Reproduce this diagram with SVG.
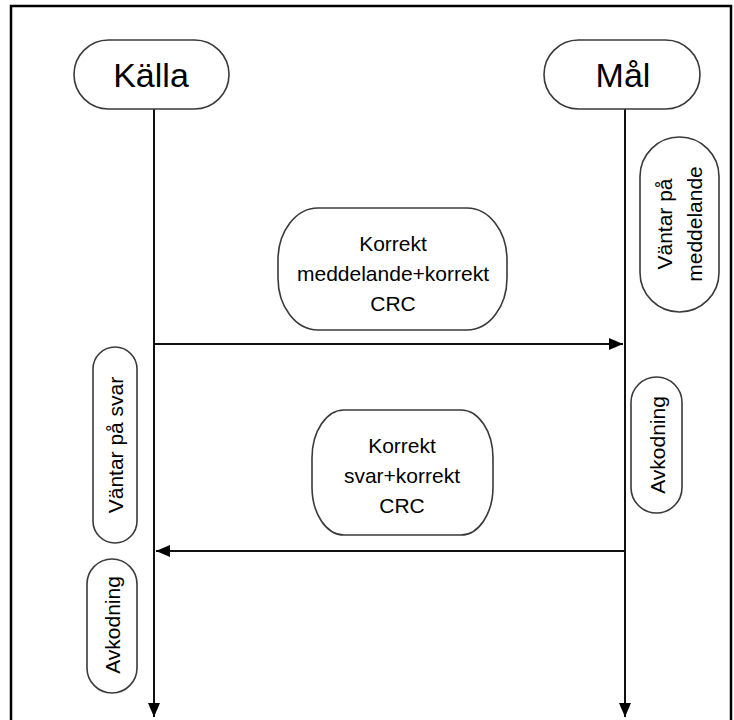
<svg xmlns="http://www.w3.org/2000/svg" width="734" height="720" viewBox="0 0 734 720">
<defs>
<marker id="ah" markerUnits="userSpaceOnUse" markerWidth="14" markerHeight="12" refX="14" refY="6" orient="auto">
<path d="M0,0 L14,6 L0,12 Z" fill="#000"/>
</marker>
</defs>
<style>
.box{fill:#fff;stroke:#3a3a3a;stroke-width:1.6}
.t{font-family:"Liberation Sans",Arial,sans-serif;fill:#000;text-anchor:middle}
.big{font-size:34px}
.sm{font-size:21px}
.ln{stroke:#111;stroke-width:2;fill:none}
</style>
<rect x="0" y="0" width="734" height="720" fill="#fff"/>
<rect x="11" y="6" width="720" height="730" fill="none" stroke="#000" stroke-width="2.5"/>
<g id="connectors">
<line class="ln" x1="154" y1="109" x2="154" y2="717" marker-end="url(#ah)"/>
<line class="ln" x1="625" y1="109" x2="625" y2="717" marker-end="url(#ah)"/>
<line class="ln" x1="154" y1="344" x2="623" y2="344" marker-end="url(#ah)"/>
<line class="ln" x1="625" y1="551" x2="156" y2="551" marker-end="url(#ah)"/>
</g>
<g id="kalla">
<rect class="box" x="74" y="40" width="155" height="69" rx="34.5" ry="34.5"/>
<text class="t big" x="151" y="87">Källa</text>
</g>
<g id="mal">
<rect class="box" x="544" y="40" width="156" height="69" rx="34.5" ry="34.5"/>
<text class="t big" x="623" y="87">Mål</text>
</g>
<g id="msg1">
<rect class="box" x="278" y="208" width="229" height="122" rx="40" ry="52"/>
<text class="t sm" x="393" y="251">Korrekt</text>
<text class="t sm" x="393" y="281">meddelande+korrekt</text>
<text class="t sm" x="393" y="311">CRC</text>
</g>
<g id="msg2">
<rect class="box" x="312" y="410" width="181" height="125" rx="32" ry="48"/>
<text class="t sm" x="402" y="453">Korrekt</text>
<text class="t sm" x="402" y="483">svar+korrekt</text>
<text class="t sm" x="402" y="513">CRC</text>
</g>
<g id="vantar-meddelande">
<rect class="box" x="640" y="137" width="79" height="175" rx="39.5" ry="39.5"/>
<g transform="translate(679.5,224) rotate(-90)">
<text class="t sm" x="0" y="-8">Väntar på</text>
<text class="t sm" x="0" y="22">meddelande</text>
</g>
</g>
<g id="avkodning-mal">
<rect class="box" x="631" y="377" width="51" height="136" rx="25.5" ry="25.5"/>
<text class="t sm" transform="translate(656.5,445) rotate(-90)" x="0" y="8">Avkodning</text>
</g>
<g id="vantar-svar">
<rect class="box" x="93" y="347" width="44" height="196" rx="22" ry="22"/>
<text class="t sm" transform="translate(115,445) rotate(-90)" x="0" y="8">Väntar på svar</text>
</g>
<g id="avkodning-kalla">
<rect class="box" x="87" y="559" width="50" height="134" rx="25" ry="25"/>
<text class="t sm" transform="translate(112,625) rotate(-90)" x="0" y="8">Avkodning</text>
</g>
</svg>
